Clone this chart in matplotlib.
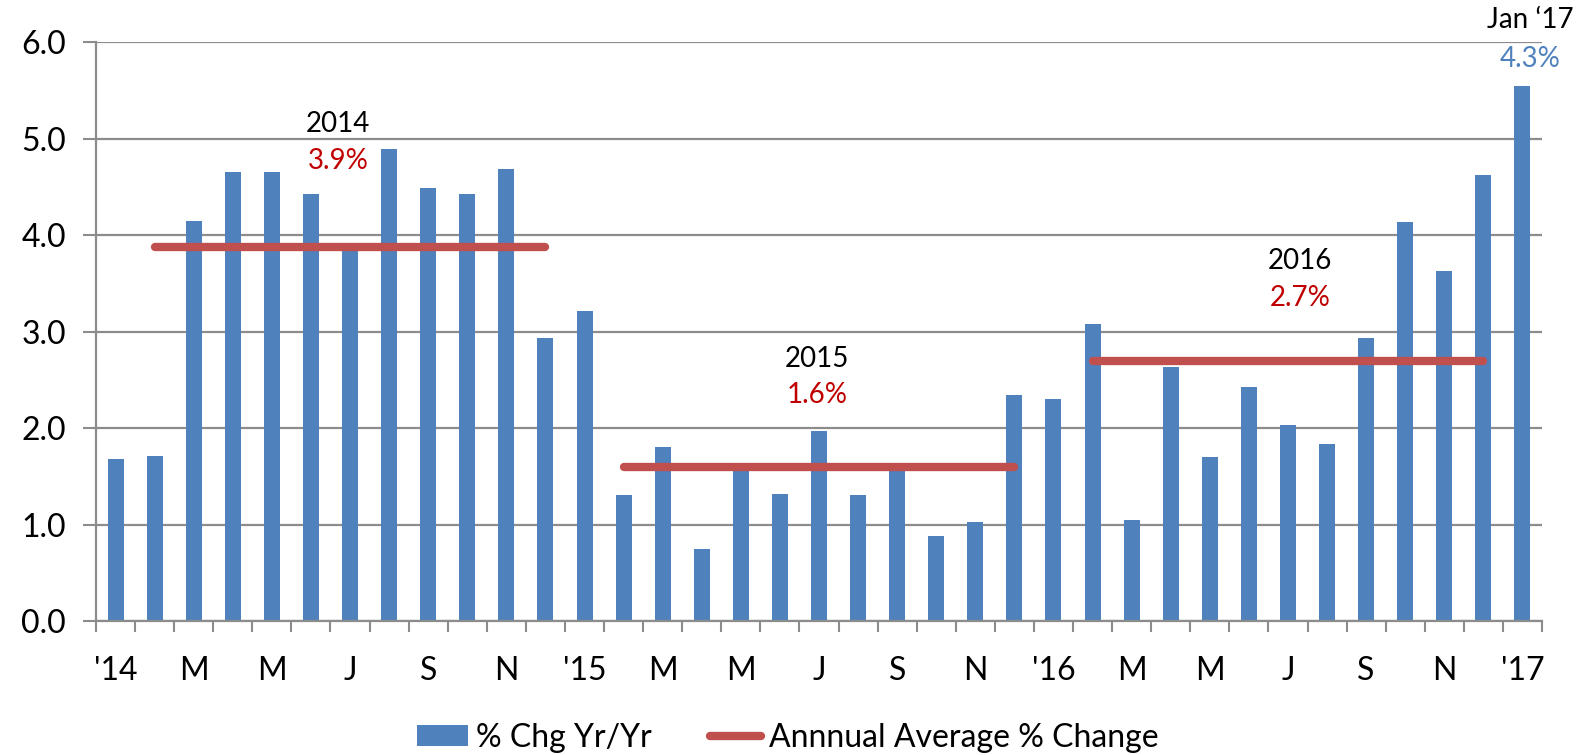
import matplotlib
matplotlib.use("Agg")
import matplotlib.pyplot as plt
import numpy as np
from matplotlib.patches import Patch
from matplotlib.lines import Line2D

plt.rcParams['font.family'] = ['Lato', 'DejaVu Sans']

# ---- data ----
months = ["Jan14","Feb14","Mar14","Apr14","May14","Jun14","Jul14","Aug14","Sep14","Oct14","Nov14","Dec14",
          "Jan15","Feb15","Mar15","Apr15","May15","Jun15","Jul15","Aug15","Sep15","Oct15","Nov15","Dec15",
          "Jan16","Feb16","Mar16","Apr16","May16","Jun16","Jul16","Aug16","Sep16","Oct16","Nov16","Dec16",
          "Jan17"]
pct_chg = [1.68, 1.71, 4.15, 4.66, 4.66, 4.43, 3.87, 4.89, 4.49, 4.43, 4.69, 2.93,
           3.21, 1.31, 1.80, 0.75, 1.60, 1.32, 1.97, 1.31, 1.60, 0.88, 1.03, 2.34,
           2.30, 3.08, 1.05, 2.63, 1.70, 2.43, 2.03, 1.84, 2.93, 4.14, 3.63, 4.62,
           5.55]
tick_labels = ["'14", "M", "M", "J", "S", "N", "'15", "M", "M", "J", "S", "N",
               "'16", "M", "M", "J", "S", "N", "'17"]
years = ["2014", "2015", "2016"]
annual_avg = [3.88, 1.60, 2.70]
annual_avg_labels = ["3.9%", "1.6%", "2.7%"]
avg_start = ["Feb14", "Feb15", "Feb16"]
avg_end = ["Dec14", "Dec15", "Dec16"]
last_label = "Jan \u201817"
last_value_label = "4.3%"

BLUE = "#4F81BD"
RED_LINE = "#C0504D"
RED_TXT = "#C00000"
GRID = "#8C8C8C"

fig = plt.figure(figsize=(15.85, 7.55), dpi=100)
ax = fig.add_axes([96/1585, 1-621/755, (1542-96)/1585, (621-42.3)/755])

x = np.arange(len(months))
ax.bar(x, pct_chg, width=0.41, color=BLUE, zorder=2)

for yr, avg, lab, s, e in zip(years, annual_avg, annual_avg_labels, avg_start, avg_end):
    i0, i1 = months.index(s), months.index(e)
    ax.plot([i0, i1], [avg, avg], color=RED_LINE, lw=6, solid_capstyle='round', zorder=3)

# annotations
ann_pos = {"2014": (5.7, 5.15), "2015": (17.95, 2.72), "2016": (30.3, 3.73)}
for yr, lab in zip(years, annual_avg_labels):
    xp, yp = ann_pos[yr]
    ax.text(xp, yp, yr, ha='center', va='center', fontsize=20, color='black', zorder=4)
    ax.text(xp, yp - 0.38, lab, ha='center', va='center', fontsize=20, color=RED_TXT, zorder=4)

ax.text(36.2, 6.23, last_label, ha='center', va='center', fontsize=20, color='black', clip_on=False)
ax.text(36.2, 5.83, last_value_label, ha='center', va='center', fontsize=20, color=BLUE, clip_on=False)

ax.set_xlim(-0.5, len(months) - 0.5)
ax.set_ylim(0, 6)
ax.set_yticks(np.arange(0, 6.01, 1.0))
ax.set_yticklabels([f"{v:.1f}" for v in np.arange(0, 6.01, 1.0)], fontsize=23)
ax.yaxis.grid(True, color=GRID, lw=1.6, zorder=0)
ax.set_axisbelow(True)

ax.set_xticks(np.arange(0, len(months), 2))
ax.set_xticklabels(tick_labels, fontsize=23)
ax.set_xticks(np.arange(-0.5, len(months), 1), minor=True)
ax.tick_params(axis='x', which='major', length=0, pad=25)
ax.tick_params(axis='x', which='minor', length=8, width=1.5, color=GRID, direction='out')
ax.tick_params(axis='y', which='major', length=9.5, width=1.5, color=GRID, pad=12)

for sp in ['top', 'right']:
    ax.spines[sp].set_visible(False)
for sp in ['left', 'bottom']:
    ax.spines[sp].set_color(GRID)
    ax.spines[sp].set_linewidth(1.6)

handles = [Patch(facecolor=BLUE, edgecolor='none'),
           Line2D([0], [0], color=RED_LINE, lw=6, solid_capstyle='round')]
fig.legend(handles, ["% Chg Yr/Yr", "Annnual Average % Change"], loc='center',
           bbox_to_anchor=(0.497, 1-738/755), ncol=2, frameon=False, fontsize=23,
           handlelength=1.6, handleheight=0.65, handletextpad=0.25, columnspacing=1.8)

fig.savefig("out.png", dpi=100)
